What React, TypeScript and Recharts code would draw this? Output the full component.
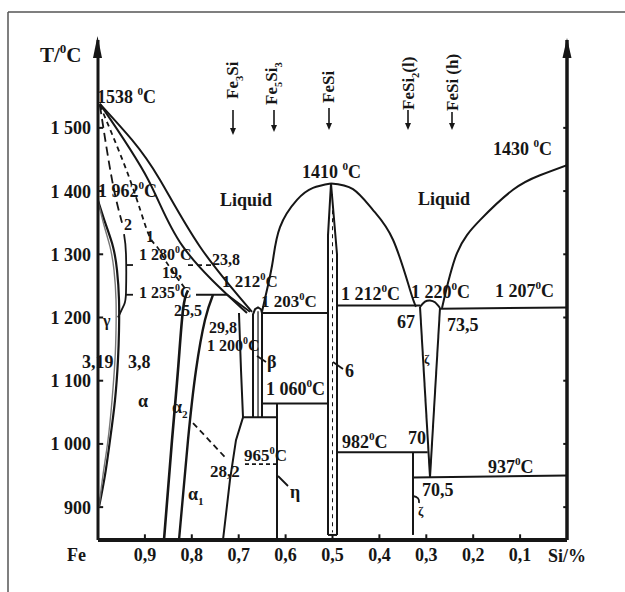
import React from 'react';
import { LineChart, Line, XAxis, YAxis, ReferenceLine } from 'recharts';

// x = mole fraction of Fe (1 = pure Fe on the left, 0 = pure Si on the right), y = temperature in °C
const tempTicks = [900, 1000, 1100, 1200, 1300, 1400, 1500];
const fracTicks = [0.9, 0.8, 0.7, 0.6, 0.5, 0.4, 0.3, 0.2, 0.1];
const tMin = 848;
const tMax = 1639;

// Fe-rich side
const liquidusFe = [[0.996, 1538], [0.9275, 1481], [0.868, 1418], [0.7825, 1312], [0.6716, 1209]];
const solidusFe = [[0.996, 1538], [0.893, 1418], [0.8188, 1312], [0.6823, 1207]];
const orderLine2 = [[0.996, 1536], [0.9701, 1418], [0.9488, 1350]];
const orderLine2Low = [[0.9445, 1332], [0.9403, 1300], [0.9403, 1240], [0.9445, 1220], [0.9574, 1200]];
const orderTicks = [1283, 1236];
const orderLine1 = [[0.996, 1536], [0.9318, 1418], [0.8934, 1334], [0.8742, 1312], [0.8529, 1286], [0.8145, 1246]];
const gammaOuter = [[1.0, 1385], [0.9829, 1346], [0.968, 1312], [0.9595, 1275], [0.9552, 1228], [0.9552, 1180], [0.9574, 1133], [0.9638, 1069], [0.9744, 1006], [0.985, 951], [0.9979, 900]];
const gammaInner = [[1.0, 1385], [0.9872, 1346], [0.9744, 1312], [0.9659, 1275], [0.9616, 1228], [0.9616, 1180], [0.9638, 1133], [0.9701, 1069], [0.9787, 1006], [0.9893, 951], [0.9979, 900]];
const alpha2Left = [[0.8593, 848], [0.8422, 1006], [0.8294, 1117], [0.8188, 1212], [0.8081, 1243]];
const alpha1Left = [[0.8273, 848], [0.8081, 1006], [0.791, 1117], [0.7719, 1196], [0.7548, 1236]];
const line1235 = [[0.791, 1236], [0.7249, 1236], [0.6759, 1209]];
const line1280 = [[0.8081, 1283], [0.7505, 1283]];
const alpha1Right = [[0.7335, 848], [0.7186, 943], [0.7058, 1006], [0.6908, 1042], [0.6951, 1117], [0.6994, 1207]];
const line1042 = [[0.6908, 1042], [0.6183, 1042]];
const betaOutline = [[0.6695, 1042], [0.6695, 1205], [0.6652, 1213], [0.6588, 1216], [0.6525, 1213], [0.6503, 1207], [0.6503, 1042]];
const betaMid = [[0.6588, 1042], [0.6588, 1210]];
const line1203 = [[0.6503, 1207], [0.5096, 1207]];
const line1060 = [[0.6503, 1064], [0.5096, 1064]];
const etaLine = [[0.6183, 1064], [0.6183, 848]];
const line965 = [[0.6866, 968], [0.6183, 968]];
const line282 = [[0.7974, 1033], [0.7292, 979]];

// FeSi
const domeLeft = [[0.6503, 1209], [0.6375, 1251], [0.6269, 1291], [0.6119, 1343], [0.5757, 1386], [0.5416, 1405], [0.5032, 1412]];
const domeRight = [[0.5032, 1412], [0.4563, 1403], [0.4136, 1370], [0.371, 1323], [0.3348, 1244], [0.322, 1217]];
const feSiLeft = [[0.5032, 1412], [0.5096, 1330], [0.5096, 856]];
const feSiRight = [[0.5032, 1412], [0.4904, 1300], [0.4904, 856]];
const feSiBottom = [[0.5096, 856], [0.4904, 856]];
const feSiMid = [[0.5, 1395], [0.5, 860]];
const line1212 = [[0.4904, 1219], [0.3134, 1219]];
const line982 = [[0.4904, 987], [0.297, 987]];

// FeSi2 and Si side
const zetaCap = [[0.3134, 1217], [0.3028, 1225], [0.2921, 1227], [0.2815, 1224], [0.2708, 1215]];
const zetaLeft = [[0.3134, 1217], [0.2921, 947]];
const zetaRight = [[0.2708, 1215], [0.2921, 947]];
const lowSi2Left = [[0.3284, 987], [0.3284, 856]];
const line937 = [[0.3284, 947], [0, 950]];
const line1207 = [[0.2708, 1214], [0, 1216]];
const liquidusSi = [[0.2665, 1215], [0.2345, 1302], [0.1855, 1354], [0.1151, 1402], [0.0576, 1425], [0, 1441]];

const FONT = "'Liberation Serif', 'Times New Roman', serif";
const INK = '#161616';

type Series = { pts: number[][]; curve: 'natural' | 'linear'; w: number; dash?: string; color?: string };

const series: Series[] = [
  { pts: liquidusFe, curve: 'natural', w: 2 },
  { pts: solidusFe, curve: 'natural', w: 2 },
  { pts: orderLine2, curve: 'natural', w: 1.8, dash: '9 5' },
  { pts: orderLine2Low, curve: 'natural', w: 1.8 },
  { pts: orderLine1, curve: 'natural', w: 1.8, dash: '5 4' },
  { pts: gammaOuter, curve: 'natural', w: 2.2 },
  { pts: gammaInner, curve: 'natural', w: 1.4, color: '#777' },
  { pts: alpha2Left, curve: 'natural', w: 2.6 },
  { pts: alpha1Left, curve: 'natural', w: 2.4 },
  { pts: line1235, curve: 'linear', w: 1.8 },
  { pts: line1280, curve: 'linear', w: 1.8, dash: '5 4' },
  { pts: alpha1Right, curve: 'linear', w: 2 },
  { pts: line1042, curve: 'linear', w: 2 },
  { pts: betaOutline, curve: 'linear', w: 2 },
  { pts: betaMid, curve: 'linear', w: 1.2 },
  { pts: line1203, curve: 'linear', w: 2 },
  { pts: line1060, curve: 'linear', w: 2 },
  { pts: etaLine, curve: 'linear', w: 2 },
  { pts: line965, curve: 'linear', w: 1.8, dash: '4 3' },
  { pts: line282, curve: 'linear', w: 1.8, dash: '6 4' },
  { pts: domeLeft, curve: 'natural', w: 2 },
  { pts: domeRight, curve: 'natural', w: 2 },
  { pts: feSiLeft, curve: 'linear', w: 2 },
  { pts: feSiRight, curve: 'linear', w: 2 },
  { pts: feSiBottom, curve: 'linear', w: 2 },
  { pts: feSiMid, curve: 'linear', w: 1, dash: '4 4' },
  { pts: line1212, curve: 'linear', w: 2 },
  { pts: line982, curve: 'linear', w: 2 },
  { pts: zetaCap, curve: 'natural', w: 2 },
  { pts: zetaLeft, curve: 'linear', w: 2 },
  { pts: zetaRight, curve: 'linear', w: 2 },
  { pts: lowSi2Left, curve: 'linear', w: 2 },
  { pts: line937, curve: 'linear', w: 2 },
  { pts: line1207, curve: 'linear', w: 2 },
  { pts: liquidusSi, curve: 'natural', w: 2 },
];

// annotation text, '^' = superscript next char, '_' = subscript next char
const labels: { t: string; x: number; y: number; fs?: number }[] = [
  { t: 'T/^0C', x: 40, y: 62, fs: 21 },
  { t: '1538 ^0C', x: 97, y: 103 },
  { t: '1 962^0C', x: 98, y: 197 },
  { t: '2', x: 124, y: 230, fs: 16 },
  { t: '1', x: 146, y: 242, fs: 16 },
  { t: '1 280^0C', x: 139, y: 260, fs: 16 },
  { t: '23,8', x: 212, y: 265, fs: 16 },
  { t: '19,', x: 162, y: 278, fs: 16 },
  { t: '1 235^0C', x: 139, y: 298, fs: 16 },
  { t: '25,5', x: 174, y: 316, fs: 16 },
  { t: '1 212^0C', x: 222, y: 287, fs: 17 },
  { t: '29,8', x: 209, y: 333, fs: 16 },
  { t: '1 200^0C', x: 207, y: 351, fs: 16 },
  { t: '1 203^0C', x: 261, y: 307, fs: 17 },
  { t: '1 212^0C', x: 341, y: 300 },
  { t: '1 220^0C', x: 411, y: 298 },
  { t: '1 207^0C', x: 495, y: 297 },
  { t: '1430 ^0C', x: 493, y: 155 },
  { t: '1410 ^0C', x: 302, y: 178 },
  { t: 'Liquid', x: 220, y: 206 },
  { t: 'Liquid', x: 418, y: 205 },
  { t: '67', x: 397, y: 328 },
  { t: '73,5', x: 447, y: 331 },
  { t: 'ζ', x: 424, y: 364, fs: 13 },
  { t: 'β', x: 267, y: 368 },
  { t: '1 060^0C', x: 266, y: 395 },
  { t: '6', x: 345, y: 377 },
  { t: 'α', x: 138, y: 407 },
  { t: 'α_2', x: 172, y: 413 },
  { t: '3,19', x: 82, y: 368 },
  { t: '3,8', x: 128, y: 368 },
  { t: 'γ', x: 103, y: 326, fs: 16 },
  { t: 'α_1', x: 188, y: 500 },
  { t: '28,2', x: 210, y: 477, fs: 17 },
  { t: '965^0C', x: 244, y: 461, fs: 17 },
  { t: 'η', x: 290, y: 498 },
  { t: '982^0C', x: 342, y: 448 },
  { t: '70', x: 408, y: 444 },
  { t: '937^0C', x: 488, y: 473 },
  { t: '70,5', x: 422, y: 496 },
  { t: 'ζ', x: 418, y: 516, fs: 13 },
  { t: 'Fe', x: 67, y: 561 },
  { t: 'Si/%', x: 548, y: 562 },
];

// compound markers along the top, read bottom-to-top
const compounds: { t: string; x: number; y: number; ax: number; a0: number; a1: number }[] = [
  { t: 'Fe_3Si', x: 238, y: 99, ax: 233, a0: 110, a1: 135 },
  { t: 'Fe_5Si_3', x: 277, y: 105, ax: 274, a0: 110, a1: 132 },
  { t: 'FeSi', x: 334, y: 103, ax: 329, a0: 108, a1: 130 },
  { t: 'FeSi_2(l)', x: 414, y: 110, ax: 408, a0: 110, a1: 130 },
  { t: 'FeSi (h)', x: 458, y: 111, ax: 452, a0: 112, a1: 130 },
];

const leaders = [
  'M 257 356 L 266 362',
  'M 333 362 L 343 369',
  'M 278 476 L 288 486',
  'M 413 496 Q 420 497 419 503',
];

function rich(s: string, fs: number) {
  const out: React.ReactNode[] = [];
  let shift = 0;
  let i = 0;
  while (i < s.length) {
    const c = s[i];
    if (c === '^' || c === '_') {
      const d = c === '^' ? -0.42 * fs : 0.28 * fs;
      out.push(
        <tspan key={i} dy={d - shift} fontSize={fs * 0.62}>
          {s[i + 1]}
        </tspan>
      );
      shift = d;
      i += 2;
    } else {
      let j = i;
      while (j < s.length && s[j] !== '^' && s[j] !== '_') j++;
      out.push(
        <tspan key={i} dy={-shift}>
          {s.slice(i, j)}
        </tspan>
      );
      shift = 0;
      i = j;
    }
  }
  return out;
}

const fmtTemp = (v: number) => (v >= 1000 ? `${Math.floor(v / 1000)} ${String(v % 1000).padStart(3, '0')}` : String(v));
const fmtFrac = (v: number) => v.toFixed(1).replace('.', ',');

const TempTick = ({ x, y, payload }: any) => (
  <text x={x} y={y} dy="0.36em" textAnchor="end" fontSize={18} fontWeight={700} fill={INK} fontFamily={FONT}>
    {fmtTemp(payload.value)}
  </text>
);

const FracTick = ({ x, y, payload }: any) => (
  <text x={x} y={y} dy="0.75em" textAnchor="middle" fontSize={18} fontWeight={700} fill={INK} fontFamily={FONT}>
    {fmtFrac(payload.value)}
  </text>
);

export default function App() {
  return (
    <div style={{ position: 'absolute', left: 0, top: 0, width: 625, height: 592, background: '#fff', fontFamily: FONT }}>
      <LineChart width={625} height={592} margin={{ top: 40, right: 58, bottom: 51, left: 97 }}>
        <XAxis
          type="number"
          dataKey="x"
          domain={[0, 1]}
          reversed
          ticks={fracTicks}
          height={1}
          allowDataOverflow
          tickLine={false}
          tickSize={0}
          tickMargin={7}
          axisLine={{ stroke: INK, strokeWidth: 4 }}
          tick={<FracTick />}
        />
        <YAxis
          type="number"
          domain={[tMin, tMax]}
          ticks={tempTicks}
          width={1}
          allowDataOverflow
          tickLine={false}
          tickSize={0}
          tickMargin={7}
          axisLine={{ stroke: INK, strokeWidth: 3 }}
          tick={<TempTick />}
        />
        <ReferenceLine x={0} stroke={INK} strokeWidth={3.5} />
        {tempTicks.map((t) => (
          <ReferenceLine key={'l' + t} segment={[{ x: 1, y: t }, { x: 0.989, y: t }]} stroke={INK} strokeWidth={2} />
        ))}
        {tempTicks.map((t) => (
          <ReferenceLine key={'r' + t} segment={[{ x: 0, y: t }, { x: 0.008, y: t }]} stroke={INK} strokeWidth={2} />
        ))}
        {fracTicks.map((f) => (
          <ReferenceLine key={'b' + f} segment={[{ x: f, y: tMin }, { x: f, y: tMin + 9 }]} stroke={INK} strokeWidth={2} />
        ))}
        {orderTicks.map((t) => (
          <ReferenceLine key={'o' + t} segment={[{ x: 0.9403, y: t }, { x: 0.9254, y: t }]} stroke={INK} strokeWidth={1.8} />
        ))}
        {series.map((s, k) => (
          <Line
            key={k}
            data={s.pts.map(([x, y]) => ({ x, y }))}
            dataKey="y"
            type={s.curve}
            stroke={s.color ?? INK}
            strokeWidth={s.w}
            strokeDasharray={s.dash}
            dot={false}
            activeDot={false}
            legendType="none"
            isAnimationActive={false}
          />
        ))}
      </LineChart>
      <svg width={625} height={592} style={{ position: 'absolute', left: 0, top: 0, pointerEvents: 'none' }}>
        <line x1={8} y1={12} x2={625} y2={12} stroke="#555" strokeWidth={1.5} />
        <line x1={8} y1={12} x2={8} y2={592} stroke="#555" strokeWidth={1.5} />
        <path d="M 97.5 36 L 102 58 L 93 58 Z" fill={INK} />
        <path d="M 567 38 L 571.5 58 L 562.5 58 Z" fill={INK} />
        {compounds.map((c, k) => (
          <g key={k}>
            <text
              x={c.x}
              y={c.y}
              transform={`rotate(-90 ${c.x} ${c.y})`}
              fontSize={17}
              fontWeight={700}
              fill={INK}
              fontFamily={FONT}
            >
              {rich(c.t, 17)}
            </text>
            <line x1={c.ax} y1={c.a0} x2={c.ax} y2={c.a1 - 5} stroke={INK} strokeWidth={1.6} />
            <path d={`M ${c.ax - 3} ${c.a1 - 7} L ${c.ax + 3} ${c.a1 - 7} L ${c.ax} ${c.a1} Z`} fill={INK} />
          </g>
        ))}
        {leaders.map((d, k) => (
          <path key={k} d={d} stroke={INK} strokeWidth={1.8} fill="none" />
        ))}
        {labels.map((l, k) => (
          <text key={k} x={l.x} y={l.y} fontSize={l.fs ?? 18} fontWeight={700} fill={INK} fontFamily={FONT}>
            {rich(l.t, l.fs ?? 18)}
          </text>
        ))}
      </svg>
    </div>
  );
}
